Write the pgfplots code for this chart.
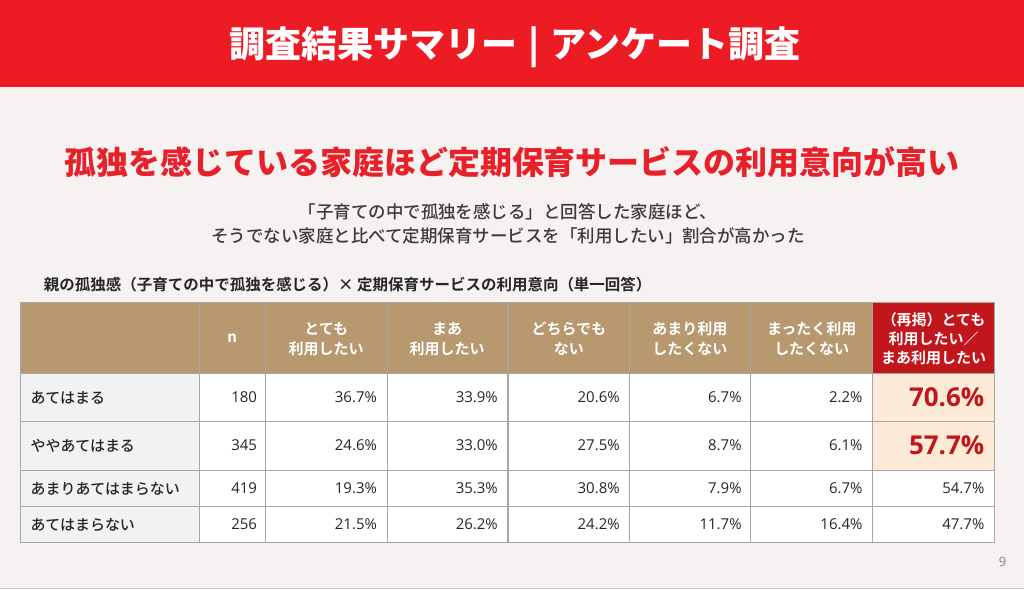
\documentclass[border=0pt]{standalone}
\usepackage{fontspec}
\usepackage{pgfplots}
\usepackage{pgfplotstable}
\pgfplotsset{compat=1.18}
\setmainfont{Noto Sans CJK JP}[BoldFont={Noto Sans CJK JP Bold}]
\newfontfamily\numfont{Open Sans}
\newfontfamily\blackfont{Noto Sans CJK JP Black}
\newfontfamily\medfont{Noto Sans CJK JP Medium}

\definecolor{bannerred}{HTML}{ED1C24}
\definecolor{headred}{HTML}{E8202A}
\definecolor{darkred}{HTML}{C0161C}
\definecolor{tan}{HTML}{B8996F}
\definecolor{rowgray}{HTML}{F2F2F2}
\definecolor{hilite}{HTML}{FDEBD8}
\definecolor{gridc}{HTML}{A6A6A6}
\definecolor{bg}{HTML}{F6F2F1}
\definecolor{txt}{HTML}{262626}

% rows of the table: y = centre of the row in pixels
\pgfplotstableread{
row ym  lab                n   a    b    c    d    e    s
1   398 あてはまる         180 36.7 33.9 20.6 6.7  2.2  70.6
2   446 ややあてはまる     345 24.6 33.0 27.5 8.7  6.1  57.7
3   489 あまりあてはまらない 419 19.3 35.3 30.8 7.9  6.7  54.7
4   525 あてはまらない     256 21.5 26.2 24.2 11.7 16.4 47.7
}\survey

\begin{document}
\begin{tikzpicture}
\begin{axis}[
    width=1024pt, height=590pt, scale only axis,
    xmin=0, xmax=1024, ymin=0, ymax=590, y dir=reverse,
    hide axis, clip=false,
    cell/.style={draw=none, mark=none, nodes near coords={\pgfplotspointmeta\%},
        point meta=explicit symbolic,
        every node near coord/.append style={anchor=east, inner sep=0pt,
            font=\numfont\fontsize{15}{18}\selectfont, text=txt}},
]
% page and banner
\addplot[fill=bg, draw=none] coordinates {(0,0) (1024,0) (1024,590) (0,590)} -- cycle;
\addplot[fill=bannerred, draw=none] coordinates {(0,0) (1024,0) (1024,87) (0,87)} -- cycle;
\addplot[gridc!60, line width=1pt] coordinates {(0,589) (1024,589)};

% cell fills
\addplot[fill=tan, draw=none] coordinates {(20,303) (873,303) (873,374) (20,374)} -- cycle;
\addplot[fill=darkred, draw=none] coordinates {(873,303) (995,303) (995,374) (873,374)} -- cycle;
\addplot[fill=rowgray, draw=none] coordinates {(20,374) (199,374) (199,543) (20,543)} -- cycle;
\addplot[fill=white, draw=none] coordinates {(199,374) (995,374) (995,543) (199,543)} -- cycle;
\addplot[fill=hilite, draw=none] coordinates {(873,374) (995,374) (995,471) (873,471)} -- cycle;

% grid lines
\pgfplotsinvokeforeach{20,199,265,387,508,630,751,873,995}{
  \addplot[gridc, line width=1.2pt] coordinates {(#1,303) (#1,543)};
}
\pgfplotsinvokeforeach{303,374,422,471,507,543}{
  \addplot[gridc, line width=1.2pt] coordinates {(20,#1) (995,#1)};
}

% titles
\node[text=white, font=\blackfont\fontsize{36}{42}\selectfont] at (axis cs:515,47) {調査結果サマリー\hspace{0.3em}|\hspace{0.3em}アンケート調査};
\node[text=headred, font=\blackfont\fontsize{32}{38}\selectfont] at (axis cs:512,162) {孤独を感じている家庭ほど定期保育サービスの利用意向が高い};
\node[text=txt!90, align=center, font=\medfont\fontsize{17.5}{24}\selectfont] at (axis cs:508,224)
  {「子育ての中で孤独を感じる」と回答した家庭ほど、\\そうでない家庭と比べて定期保育サービスを「利用したい」割合が高かった};
\node[anchor=west, text=txt, font=\fontsize{15.5}{18}\selectfont\bfseries] at (axis cs:40,285)
  {親の孤独感（子育ての中で孤独を感じる）× 定期保育サービスの利用意向（単一回答）};
\node[text=gray, font=\numfont\fontsize{13}{15}\selectfont] at (axis cs:1003,562) {9};

% header
\begin{scope}[every node/.style={text=white, align=center, font=\fontsize{15}{20}\selectfont\bfseries}]
\node at (axis cs:232,339) {n};
\node at (axis cs:326,339) {とても\\利用したい};
\node at (axis cs:447,339) {まあ\\利用したい};
\node at (axis cs:569,339) {どちらでも\\ない};
\node at (axis cs:690,339) {あまり利用\\したくない};
\node at (axis cs:812,339) {まったく利用\\したくない};
\node[font=\fontsize{15}{19}\selectfont\bfseries] at (axis cs:934,339) {（再掲）とても\\利用したい／\\まあ利用したい};
\end{scope}

% row labels
\addplot[draw=none, mark=none, nodes near coords={\pgfplotspointmeta},
    point meta=explicit symbolic,
    every node near coord/.append style={anchor=west, inner sep=0pt,
        font=\medfont\fontsize{15}{18}\selectfont, text=txt}]
  table[x expr=30, y=ym, meta=lab] {\survey};
% n
\addplot[cell, nodes near coords={\pgfplotspointmeta}] table[x expr=257, y=ym, meta=n] {\survey};
% shares
\addplot[cell] table[x expr=377, y=ym, meta=a] {\survey};
\addplot[cell] table[x expr=498, y=ym, meta=b] {\survey};
\addplot[cell] table[x expr=620, y=ym, meta=c] {\survey};
\addplot[cell] table[x expr=742, y=ym, meta=d] {\survey};
\addplot[cell] table[x expr=863, y=ym, meta=e] {\survey};
\addplot[cell, skip coords between index={2}{4},
    every node near coord/.append style={font=\numfont\bfseries\fontsize{26}{30}\selectfont, text=darkred}]
  table[x expr=985, y=ym, meta=s] {\survey};
\addplot[cell, skip coords between index={0}{2}] table[x expr=985, y=ym, meta=s] {\survey};
\end{axis}
\end{tikzpicture}
\end{document}
